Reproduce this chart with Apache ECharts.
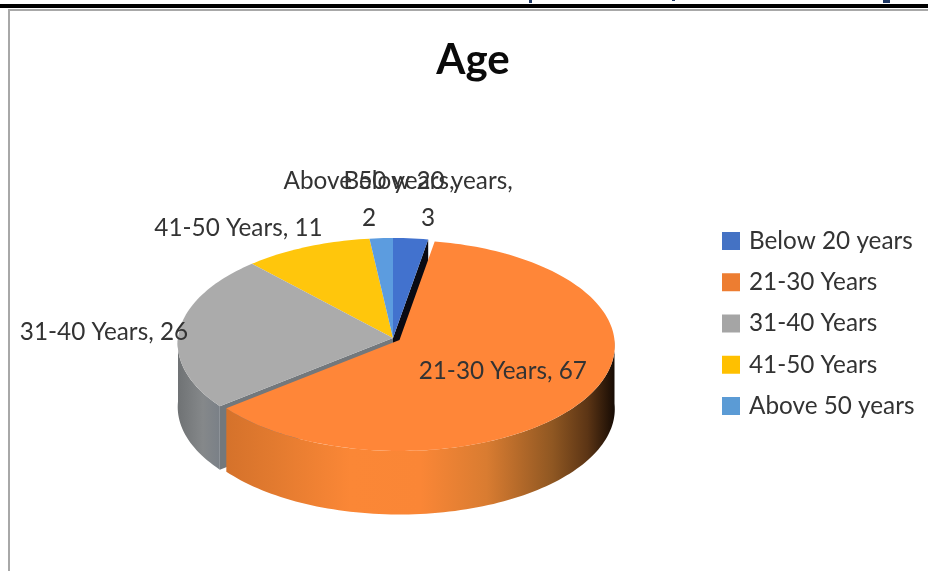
<!DOCTYPE html>
<html>
<head>
<meta charset="utf-8">
<style>html,body{margin:0;padding:0;background:#fff}#chart{width:928px;height:571px}</style>
<script src="https://cdn.jsdelivr.net/npm/echarts@6/dist/echarts.min.js"></script>
</head>
<body>
<div id="chart"></div>
<script>
// Age distribution of respondents
const categories = ['Below 20 years', '21-30 Years', '31-40 Years', '41-50 Years', 'Above 50 years'];
const counts = [3, 67, 26, 11, 2];
const topColors = ['#4272CE', '#FF8638', '#ABABAB', '#FFC60C', '#5C9CDF'];
const legendColors = ['#4472C4', '#ED7D31', '#A5A5A5', '#FFC000', '#5B9BD5'];

// Tilted disc seen in perspective: the near half projects larger than the far half
const disc = { cx: 393, apexY: 338, sx: 215, sy: 105.2, perspective: 0.052, depth: 63.5 };
const explode = { '21-30 Years': [6.5, 2] };

// Label placement relative to the rim midpoint of each slice
const labelPlacement = {
  'Below 20 years': { dx: 17.4, dy: -38.4, wrap: true },
  '21-30 Years': { dx: -86.9, dy: -23.7, wrap: false },
  '31-40 Years': { dx: -75.4, dy: 2, wrap: false },
  '41-50 Years': { dx: -68.5, dy: -18.8, wrap: false },
  'Above 50 years': { dx: -12.2, dy: -38.2, wrap: true }
};

const wallFills = {
  '21-30 Years': [[0, '#D5722B'], [0.12, '#E27A2F'], [0.32, '#FB8736'], [0.5, '#FA8636'],
                  [0.67, '#D97C31'], [0.84, '#8F5722'], [0.93, '#5C3515'], [1, '#160B04']],
  '31-40 Years': [[0, '#6F7274'], [0.6, '#85888A'], [1, '#7A8087']]
};

const FONT = 'Lato, "Noto Sans", sans-serif';
const total = counts.reduce((a, b) => a + b, 0);

// Slice spans in degrees, clockwise from twelve o'clock
const spans = {};
let running = 0;
categories.forEach((name, i) => {
  const sweep = counts[i] / total * 360;
  spans[name] = { from: running, to: running + sweep };
  running += sweep;
});

function rim(deg, off) {
  const a = deg * Math.PI / 180;
  const w = 1 + disc.perspective * Math.cos(a);
  return [
    disc.cx + off[0] + disc.sx * Math.sin(a) / w,
    disc.apexY + off[1] - disc.sy * Math.cos(a) / w
  ];
}
function arc(from, to, off) {
  const pts = [];
  const n = Math.max(2, Math.ceil((to - from) / 1.5));
  for (let k = 0; k <= n; k++) pts.push(rim(from + (to - from) * k / n, off));
  return pts;
}
function drop(pts) {
  return pts.map(p => [p[0], p[1] + disc.depth]);
}

function renderSlice(name, color) {
  return function () {
    const span = spans[name];
    const off = explode[name] || [0, 0];
    const apex = [disc.cx + off[0], disc.apexY + off[1]];
    const apexLow = [apex[0], apex[1] + disc.depth];
    const children = [];

    // Cut faces show through the gap beside the exploded slice
    if (name === 'Below 20 years') {
      const end = rim(span.to, off);
      children.push({
        type: 'polygon',
        shape: { points: [apex, end, [end[0], end[1] + disc.depth], apexLow] },
        style: { fill: '#0A0A12' }
      });
    }
    if (name === '31-40 Years') {
      const start = rim(span.from, off);
      children.push({
        type: 'polygon',
        shape: { points: [apex, start, [start[0], start[1] + disc.depth], apexLow] },
        style: { fill: '#73787C' }
      });
    }

    // Outer wall: only the part of the rim on the near side of the disc
    const wallFrom = Math.max(span.from, 90);
    const wallTo = Math.min(span.to, 270);
    if (wallTo > wallFrom) {
      const edge = arc(wallFrom, wallTo, off);
      children.push({
        type: 'polygon',
        shape: { points: edge.concat(drop(edge).reverse()) },
        style: {
          fill: {
            type: 'linear', x: 0, y: 0, x2: 1, y2: 0,
            colorStops: (wallFills[name] || [[0, color], [1, color]]).map(s => ({ offset: s[0], color: s[1] }))
          }
        }
      });
    }

    // Top surface
    children.push({
      type: 'polygon',
      shape: { points: [apex].concat(arc(span.from, span.to, off)) },
      style: { fill: color }
    });
    return { type: 'group', children };
  };
}

function renderLabels() {
  const children = categories.map((name, i) => {
    const span = spans[name];
    const off = explode[name] || [0, 0];
    const anchor = rim((span.from + span.to) / 2, off);
    const place = labelPlacement[name];
    return {
      type: 'text',
      style: {
        x: anchor[0] + place.dx,
        y: anchor[1] + place.dy,
        text: name + ',' + (place.wrap ? '\n' : ' ') + counts[i],
        fill: '#333333',
        fontFamily: FONT,
        fontSize: 24.3,
        lineHeight: 37,
        align: 'center',
        verticalAlign: 'middle'
      }
    };
  });
  return { type: 'group', children };
}

// Back slices are painted first so the near ones overlap them
const paintOrder = ['41-50 Years', 'Above 50 years', 'Below 20 years', '31-40 Years', '21-30 Years'];

const series = paintOrder.map(name => {
  const i = categories.indexOf(name);
  return {
    type: 'custom',
    name,
    coordinateSystem: 'none',
    silent: true,
    itemStyle: { color: legendColors[i] },
    data: [{ name, value: counts[i] }],
    renderItem: renderSlice(name, topColors[i])
  };
});
series.push({
  type: 'custom',
  name: 'Labels',
  coordinateSystem: 'none',
  silent: true,
  data: [0],
  renderItem: renderLabels
});

const chart = echarts.init(document.getElementById('chart'), null, { renderer: 'canvas' });
chart.setOption({
  animation: false,
  backgroundColor: '#fff',
  title: {
    text: 'Age',
    left: 468,
    top: 34,
    textAlign: 'center',
    textStyle: { fontFamily: FONT, fontSize: 42, fontWeight: 'bold', color: '#0A0A0A' }
  },
  legend: {
    orient: 'vertical',
    left: 722,
    top: 229,
    padding: 0,
    itemWidth: 18,
    itemHeight: 18,
    itemGap: 17.25,
    icon: 'rect',
    selectedMode: false,
    textStyle: { fontFamily: FONT, fontSize: 24.3, color: '#333333', padding: [0, 0, 0, 4], lineHeight: 18 },
    data: categories.map((name, i) => ({ name, itemStyle: { color: legendColors[i] } }))
  },
  graphic: [
    { type: 'rect', shape: { x: 0, y: 4, width: 928, height: 4 }, style: { fill: '#000' } },
    { type: 'rect', shape: { x: 8, y: 9, width: 920, height: 2 }, style: { fill: '#A8A8A8' } },
    { type: 'rect', shape: { x: 8, y: 9, width: 2, height: 562 }, style: { fill: '#A8A8A8' } },
    { type: 'rect', shape: { x: 529, y: 0, width: 3, height: 3 }, style: { fill: '#1F3864' } },
    { type: 'rect', shape: { x: 672, y: 0, width: 3, height: 1 }, style: { fill: '#1F3864' } },
    { type: 'rect', shape: { x: 883, y: 0, width: 7, height: 3 }, style: { fill: '#1F3864' } }
  ],
  series
});
</script>
</body>
</html>
